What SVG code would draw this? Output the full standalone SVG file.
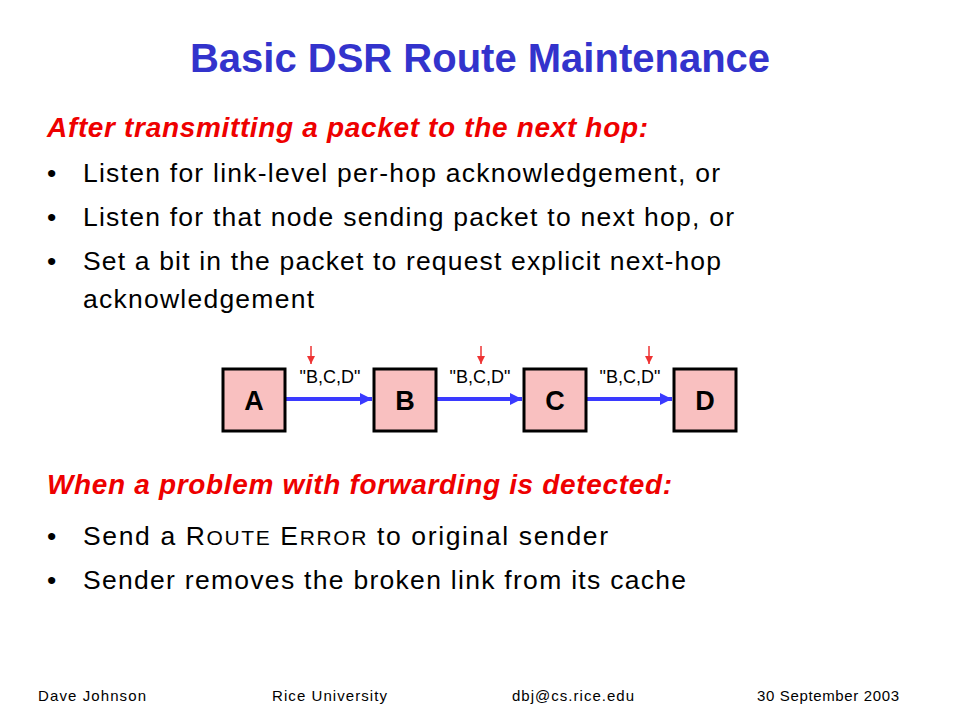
<svg xmlns="http://www.w3.org/2000/svg" width="960" height="720" viewBox="0 0 960 720">
<defs>
<style>
.t{font-family:"Liberation Sans",Arial,sans-serif;}
.title{font-size:40px;font-weight:bold;fill:#3333cc;}
.hd{font-size:28px;font-weight:bold;font-style:italic;fill:#ee0000;}
.b{font-size:26.5px;fill:#000;}
.sc{font-size:21px;}
.ft{font-size:15px;fill:#000;}
.box{fill:#f9c0c0;stroke:#000;stroke-width:3;}
.lbl{font-size:27px;font-weight:bold;fill:#000;}
.el{font-size:18px;fill:#000;}
.link{stroke:#3a3aff;stroke-width:4;fill:none;}
.ack{stroke:#ee3333;stroke-width:1.5;fill:none;}
</style>
<marker id="ab" viewBox="0 0 10 10" refX="10" refY="5" markerWidth="20" markerHeight="12" markerUnits="userSpaceOnUse" orient="auto">
<path d="M0,0 L10,5 L0,10 Z" fill="#3a3aff"/>
</marker>
<marker id="ar" viewBox="0 0 10 10" refX="10" refY="5" markerWidth="9" markerHeight="8" markerUnits="userSpaceOnUse" orient="auto">
<path d="M0,0 L10,5 L0,10 Z" fill="#ee3333"/>
</marker>
</defs>
<rect width="960" height="720" fill="#fff"/>
<text class="t title" x="480" y="72" text-anchor="middle">Basic DSR Route Maintenance</text>
<text class="t hd" x="47" y="137" textLength="601" lengthAdjust="spacing">After transmitting a packet to the next hop:</text>
<g class="t b">
<text x="47" y="182">•</text><text x="83" y="182" textLength="637" lengthAdjust="spacing">Listen for link-level per-hop acknowledgement, or</text>
<text x="47" y="226">•</text><text x="83" y="226" textLength="651" lengthAdjust="spacing">Listen for that node sending packet to next hop, or</text>
<text x="47" y="270">•</text><text x="83" y="270" textLength="638" lengthAdjust="spacing">Set a bit in the packet to request explicit next-hop</text>
<text x="83" y="308" textLength="231" lengthAdjust="spacing">acknowledgement</text>
</g>
<g id="connectors">
<line class="link" x1="285" y1="399" x2="372" y2="399" marker-end="url(#ab)"/>
<line class="link" x1="436" y1="399" x2="522" y2="399" marker-end="url(#ab)"/>
<line class="link" x1="586" y1="399" x2="672" y2="399" marker-end="url(#ab)"/>
<line class="ack" x1="311" y1="346" x2="311" y2="364" marker-end="url(#ar)"/>
<line class="ack" x1="481" y1="346" x2="481" y2="364" marker-end="url(#ar)"/>
<line class="ack" x1="649" y1="346" x2="649" y2="364" marker-end="url(#ar)"/>
<text class="t el" x="330" y="383" text-anchor="middle">"B,C,D"</text>
<text class="t el" x="480" y="383" text-anchor="middle">"B,C,D"</text>
<text class="t el" x="630" y="383" text-anchor="middle">"B,C,D"</text>
</g>
<g id="nodeA"><rect class="box" x="223" y="369" width="62" height="62"/><text class="t lbl" x="254" y="410" text-anchor="middle">A</text></g>
<g id="nodeB"><rect class="box" x="374" y="369" width="62" height="62"/><text class="t lbl" x="405" y="410" text-anchor="middle">B</text></g>
<g id="nodeC"><rect class="box" x="524" y="369" width="62" height="62"/><text class="t lbl" x="555" y="410" text-anchor="middle">C</text></g>
<g id="nodeD"><rect class="box" x="674" y="369" width="62" height="62"/><text class="t lbl" x="705" y="410" text-anchor="middle">D</text></g>
<text class="t hd" x="47" y="494" textLength="625" lengthAdjust="spacing">When a problem with forwarding is detected:</text>
<g class="t b">
<text x="47" y="545">•</text><text x="83" y="545" textLength="525" lengthAdjust="spacing">Send a R<tspan class="sc">OUTE</tspan> E<tspan class="sc">RROR</tspan>  to original sender</text>
<text x="47" y="589">•</text><text x="83" y="589" textLength="603" lengthAdjust="spacing">Sender removes the broken link from its cache</text>
</g>
<g class="t ft">
<text x="38" y="701" textLength="108" lengthAdjust="spacing">Dave Johnson</text>
<text x="272" y="701" textLength="115" lengthAdjust="spacing">Rice University</text>
<text x="512" y="701" textLength="122" lengthAdjust="spacing">dbj@cs.rice.edu</text>
<text x="757" y="701" textLength="142" lengthAdjust="spacing">30 September  2003</text>
</g>
</svg>
